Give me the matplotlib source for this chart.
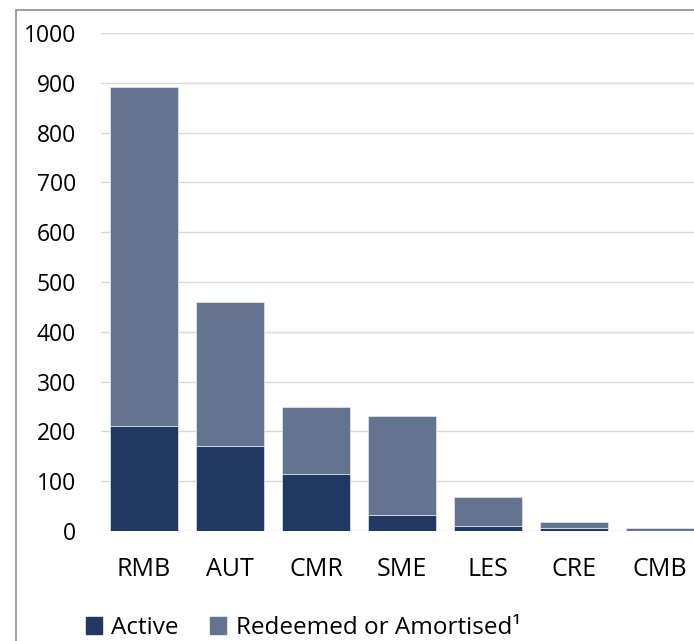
import numpy as np
import matplotlib.pyplot as plt
from matplotlib.patches import Rectangle, Patch

plt.rcParams['font.family'] = ['Open Sans', 'DejaVu Sans']

# data
categories = ['RMB', 'AUT', 'CMR', 'SME', 'LES', 'CRE', 'CMB']
active = [211, 171, 114, 33, 11, 7, 1]
redeemed = [681, 289, 134, 197, 57, 11, 5]
yticks = [0, 100, 200, 300, 400, 500, 600, 700, 800, 900, 1000]

c_active = '#213863'
c_redeemed = '#64738f'

W, H = 694, 641
fig = plt.figure(figsize=(W/100, H/100), dpi=100)

# plot area runs a bit past the right edge, as in the source image
ax = fig.add_axes([101/W, (H-531)/H, 602/W, 498/H])

x = np.arange(len(categories))
ax.bar(x, active, width=0.79, color=c_active, edgecolor='#e6e9ef', linewidth=0.5, zorder=3)
ax.bar(x, redeemed, width=0.79, bottom=active, color=c_redeemed,
       edgecolor='#e6e9ef', linewidth=0.5, zorder=3)

ax.set_xlim(-0.5, len(categories) - 0.5)
ax.set_ylim(0, 1000)
ax.set_yticks(yticks)
ax.set_xticks(x)
ax.set_xticklabels(categories)
ax.grid(axis='y', color='#d9d9d9', linewidth=1.0, zorder=0)
for s in ax.spines.values():
    s.set_visible(False)
ax.tick_params(length=0, colors='black')
ax.tick_params(axis='y', pad=18, labelsize=16.5)
ax.tick_params(axis='x', pad=19, labelsize=18)

# outer chart border (left and top visible)
fig.patches.append(Rectangle((16/W, -0.1), 1.2, (H-10)/H + 0.1, transform=fig.transFigure,
                             fill=False, edgecolor='#8c8c8c', linewidth=1.2))

handles = [Patch(color=c_active), Patch(color=c_redeemed)]
fig.legend(handles, ['Active', 'Redeemed or Amortised\u00b9'], loc='center left',
           bbox_to_anchor=(64/W, 1 - 628/H), ncol=2, frameon=False, fontsize=17.5,
           handlelength=0.65, handleheight=0.65, handletextpad=0.4, columnspacing=1.3)

fig.savefig('out.png', dpi=100)
